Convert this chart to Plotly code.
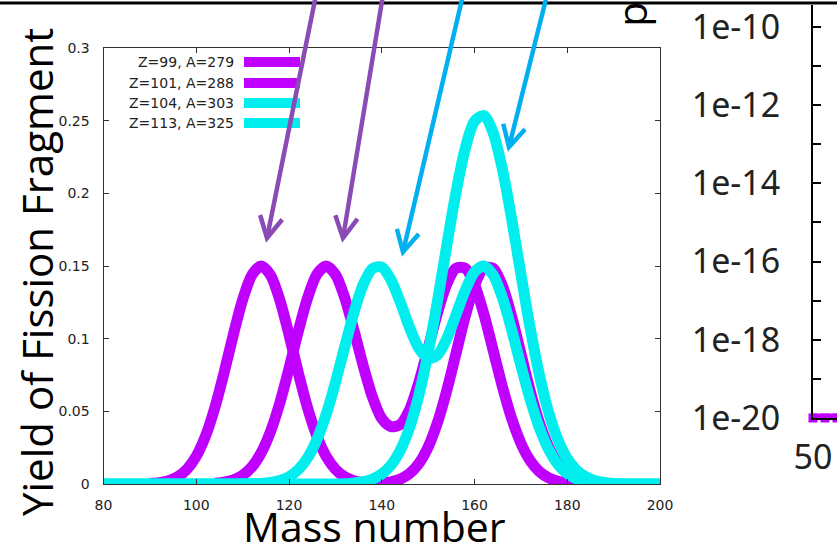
import numpy as np
import plotly.graph_objects as go

W, H = 837, 544

# ---------------- data ----------------
series_names = ["Z=99, A=279", "Z=101, A=288", "Z=104, A=303", "Z=113, A=325"]
series_colors = ["#bf00ff", "#bf00ff", "#00eeee", "#00eeee"]

mass_z99 = list(range(90, 188, 2))
yield_z99 = [0.0004, 0.0009, 0.0023, 0.0050, 0.0102, 0.0191, 0.0330, 0.0525, 0.0766, 0.1028,
             0.1268, 0.1438, 0.1500, 0.1438, 0.1268, 0.1028, 0.0766, 0.0525, 0.0330, 0.0191,
             0.0102, 0.0050, 0.0023, 0.0010, 0.0006, 0.0007, 0.0015, 0.0034, 0.0072, 0.0141,
             0.0254, 0.0421, 0.0641, 0.0897, 0.1154, 0.1365, 0.1484, 0.1484, 0.1365, 0.1154,
             0.0897, 0.0641, 0.0421, 0.0254, 0.0141, 0.0072, 0.0034, 0.0015, 0.0006]

mass_z101 = list(range(104, 184, 2))
yield_z101 = [0.0005, 0.0012, 0.0028, 0.0060, 0.0118, 0.0215, 0.0360, 0.0556, 0.0795, 0.1050,
              0.1280, 0.1442, 0.1500, 0.1443, 0.1283, 0.1058, 0.0814, 0.0598, 0.0450, 0.0395,
              0.0410, 0.0512, 0.0700, 0.0935, 0.1176, 0.1374, 0.1485, 0.1485, 0.1372, 0.1171,
              0.0923, 0.0672, 0.0452, 0.0281, 0.0161, 0.0085, 0.0042, 0.0019, 0.0008, 0.0003]

mass_z104 = list(range(80, 202, 2))
yield_z104 = [0, 0, 0, 0, 0, 0, 0, 0, 0, 0,
              0, 0, 0, 0, 0, 0.0001, 0.0002, 0.0004, 0.0010, 0.0024,
              0.0050, 0.0099, 0.0180, 0.0305, 0.0478, 0.0697, 0.0941, 0.1179, 0.1372, 0.1483,
              0.1492, 0.1404, 0.1250, 0.1076, 0.0934, 0.0864, 0.0888, 0.0998, 0.1162, 0.1332,
              0.1459, 0.1500, 0.1439, 0.1284, 0.1063, 0.0817, 0.0583, 0.0386, 0.0237, 0.0135,
              0.0071, 0.0035, 0.0016, 0.0007, 0.0003, 0.0001, 0, 0, 0, 0, 0]

mass_z113 = list(range(80, 202, 2))
yield_z113 = [0, 0, 0, 0, 0, 0, 0, 0, 0, 0,
              0, 0, 0, 0, 0, 0, 0, 0, 0, 0,
              0, 0, 0, 0, 0, 0, 0.0002, 0.0007, 0.0016, 0.0034,
              0.0069, 0.0130, 0.0232, 0.0389, 0.0612, 0.0904, 0.1255, 0.1637, 0.2005, 0.2308,
              0.2496, 0.2535, 0.2419, 0.2168, 0.1826, 0.1445, 0.1073, 0.0749, 0.0491, 0.0303,
              0.0175, 0.0095, 0.0049, 0.0023, 0.0010, 0.0004, 0.0001, 0, 0, 0, 0]

x_ticks = [80, 100, 120, 140, 160, 180, 200]
y_ticks = [0, 0.05, 0.1, 0.15, 0.2, 0.25, 0.3]
y_tick_text = ["0", "0.05", "0.1", "0.15", "0.2", "0.25", "0.3"]

# partial second chart on the right
right_mass = [50, 70, 90]
right_yield = [1e-20, 1e-20, 1e-20]
right_y_ticks = [10.0 ** (-k) for k in range(20, 9, -1)]
right_y_text = ["1e-%d" % k if k % 2 == 0 else "" for k in range(20, 9, -1)]

x_title = "Mass number"
y_title = "Yield of Fission Fragment"

# ---------------- helpers (pixel -> paper) ----------------
def px(x):
    return x / W

def py(y):
    return 1 - y / H

fig = go.Figure()

all_mass = [mass_z99, mass_z101, mass_z104, mass_z113]
all_yield = [yield_z99, yield_z101, yield_z104, yield_z113]
for m, yv, name, col in zip(all_mass, all_yield, series_names, series_colors):
    fig.add_trace(go.Scatter(x=m, y=yv, mode="lines", name=name,
                             line=dict(color=col, width=11, shape="spline", smoothing=0.8),
                             cliponaxis=False, showlegend=False, xaxis="x", yaxis="y"))

fig.add_trace(go.Scatter(x=right_mass, y=right_yield, mode="lines+markers",
                         line=dict(color="#bf00ff", width=9),
                         marker=dict(symbol="square", size=9, color="#bf00ff"),
                         cliponaxis=False, showlegend=False, xaxis="x2", yaxis="y2"))

axis_font = dict(family="DejaVu Sans", size=14, color="#222222")
big_font = dict(family="Noto Sans", size=34, color="#222222")

fig.update_layout(
    width=W, height=H,
    margin=dict(l=0, r=0, t=0, b=0),
    paper_bgcolor="white", plot_bgcolor="white",
    showlegend=False,
    xaxis=dict(domain=[px(103.5), px(660)], range=[80, 200], tickmode="array", tickvals=x_ticks,
               ticks="inside", ticklen=5, tickcolor="#333", showline=True, linecolor="#333",
               linewidth=1, mirror="ticks", showgrid=False, zeroline=False, tickfont=axis_font,
               ticklabelstandoff=8, anchor="y", automargin=False),
    yaxis=dict(domain=[1 - 484 / H, 1 - 48 / H], range=[0, 0.3], tickmode="array",
               tickvals=y_ticks, ticktext=y_tick_text, ticks="inside", ticklen=5, tickcolor="#333",
               showline=True, linecolor="#333", linewidth=1, mirror="ticks", showgrid=False,
               zeroline=False, tickfont=axis_font, ticklabelstandoff=10, anchor="x",
               automargin=False),
    xaxis2=dict(domain=[px(813), 1], range=[50, 90], tickmode="array", tickvals=[50],
                ticktext=["50"], ticks="", showline=True, linecolor="black", linewidth=2,
                showgrid=False, zeroline=False, tickfont=big_font, ticklabelstandoff=8,
                anchor="y2", automargin=False),
    yaxis2=dict(domain=[1 - 418 / H, 1 - 5 / H], type="log", range=[-20, -9.44],
                tickmode="array", tickvals=right_y_ticks, ticktext=right_y_text,
                ticks="inside", ticklen=8, tickwidth=1.5, tickcolor="black", showline=True,
                linecolor="black", linewidth=2, showgrid=False, zeroline=False,
                tickfont=big_font, ticklabelstandoff=24, anchor="x2", automargin=False),
)

shapes = []
annotations = []

# top black rule
shapes.append(dict(type="line", xref="paper", yref="paper", x0=0, x1=1, y0=py(3), y1=py(3),
                   line=dict(color="black", width=3)))

# legend (gnuplot style: text then line sample)
legend_rows = [62, 83, 103, 123]
for name, col, ry in zip(series_names, series_colors, legend_rows):
    annotations.append(dict(xref="paper", yref="paper", x=px(236), y=py(ry), text=name,
                            showarrow=False, xanchor="right", yanchor="middle",
                            font=axis_font))
    shapes.append(dict(type="line", xref="paper", yref="paper", x0=px(244), x1=px(300),
                       y0=py(ry), y1=py(ry), line=dict(color=col, width=10)))

# arrows (drawn in pixel space)
arrows = [((316, -5), (267, 238), "#8a4bb4"),
          ((383, -5), (343, 238), "#8a4bb4"),
          ((463, -5), (403, 252), "#00b0f0"),
          ((547, -5), (509, 147), "#00b0f0")]
for (x0, y0), (x1, y1), col in arrows:
    v = np.array([x1 - x0, y1 - y0], dtype=float)
    v /= np.hypot(*v)
    L, ang = 24, np.radians(28)
    wings = []
    for s in (1, -1):
        c, sn = np.cos(s * ang), np.sin(s * ang)
        r = np.array([c * (-v[0]) - sn * (-v[1]), sn * (-v[0]) + c * (-v[1])])
        wings.append((x1 + L * r[0], y1 + L * r[1]))
    shapes.append(dict(type="line", xref="paper", yref="paper", x0=px(x0), y0=py(y0),
                       x1=px(x1), y1=py(y1), line=dict(color=col, width=4.5)))
    path = "M %f %f L %f %f L %f %f" % (px(wings[0][0]), py(wings[0][1]), px(x1), py(y1),
                                        px(wings[1][0]), py(wings[1][1]))
    shapes.append(dict(type="path", xref="paper", yref="paper", path=path,
                       line=dict(color=col, width=4.5)))

# axis titles
title_font = dict(family="Open Sans", size=42, color="black")
annotations.append(dict(xref="paper", yref="paper", x=px(36), y=py(272), text=y_title,
                        textangle=-90, showarrow=False, xanchor="center", yanchor="middle",
                        font=title_font))
annotations.append(dict(xref="paper", yref="paper", x=px(374), y=py(526), text=x_title,
                        showarrow=False, xanchor="center", yanchor="middle",
                        font=dict(family="Open Sans", size=41, color="black")))
# partially visible title of the neighbouring chart (cut by the top edge)
annotations.append(dict(xref="paper", yref="paper", x=px(641), y=py(29), text="Yield",
                        textangle=90, showarrow=False, xanchor="center", yanchor="bottom",
                        font=dict(family="Open Sans", size=41, color="black")))

fig.update_layout(shapes=shapes, annotations=annotations)
fig.write_html("out.html")
